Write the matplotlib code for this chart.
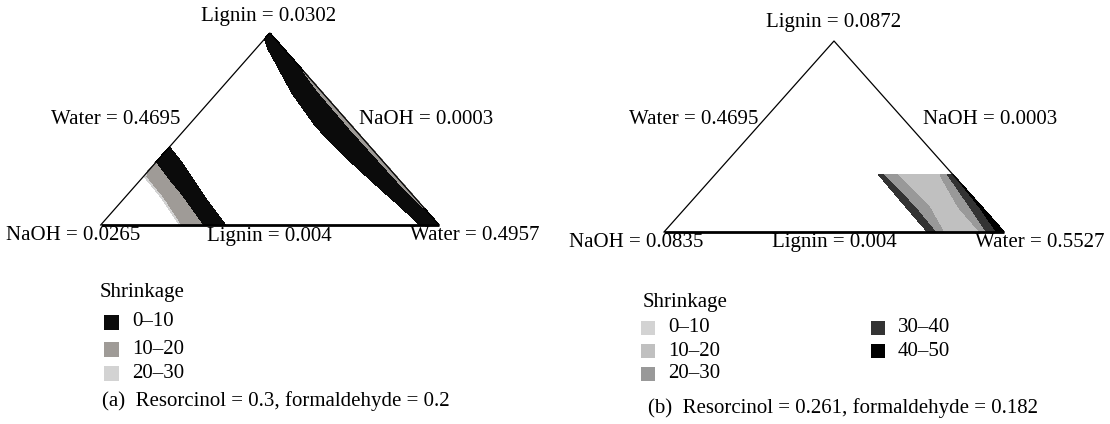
import numpy as np
import matplotlib
matplotlib.use("Agg")
import matplotlib.pyplot as plt
from matplotlib.patches import Rectangle

plt.rcParams['font.family'] = ['Liberation Serif', 'DejaVu Serif']
FS = 15

W, H = 1110, 424
fig = plt.figure(figsize=(W / 100, H / 100), dpi=100)

# ---------------- panel (a): resorcinol 0.3, formaldehyde 0.2 ----------------
a_vertex_labels = ["Lignin = 0.0302", "Water = 0.4695", "NaOH = 0.0003",
                   "NaOH = 0.0265", "Lignin = 0.004", "Water = 0.4957"]
a_levels = [0, 10, 20, 30]
a_bins = ["0\u201310", "10\u201320", "20\u201330"]
a_colors = ["#0b0b0b", "#9f9b97", "#d3d3d3"]
a_caption = "(a)  Resorcinol = 0.3, formaldehyde = 0.2"

# shrinkage iso-lines near the NaOH corner: height fraction t -> base position x
a_iso20_t = [0, 0.141, 0.25, 0.35, 0.45]
a_iso20_x = [0.234, 0.181, 0.131, 0.15, 0.16]
a_iso10_t = [0, 0.146, 0.234, 0.323, 0.45]
a_iso10_x = [0.299, 0.240, 0.199, 0.161, 0.17]
a_iso0_t = [0, 0.12, 0.219, 0.323, 0.406, 0.45]
a_iso0_x = [0.368, 0.317, 0.279, 0.240, 0.202, 0.19]
# shrinkage iso-lines along the Lignin-Water side: t -> distance from that side
a_edge0_t = [0, 0.1, 0.2, 0.34, 0.51, 0.69, 0.86, 0.92, 0.97, 1.0]
a_edge0_d = [0.055, 0.066, 0.08, 0.097, 0.107, 0.09, 0.057, 0.046, 0.03, 0.0]
a_edge10_t = [0, 0.09, 0.2, 0.5, 0.7, 0.8, 1.0]
a_edge10_d = [-0.006, 0, 0.008, 0.012, 0.009, 0, -0.006]
# shrinkage carried by each iso-line, left to right across a row
a_profile = [40, 40, 20, 10, 0, -20, 0, 10, 15, 15]

# ---------------- panel (b): resorcinol 0.261, formaldehyde 0.182 ----------------
b_vertex_labels = ["Lignin = 0.0872", "Water = 0.4695", "NaOH = 0.0003",
                   "NaOH = 0.0835", "Lignin = 0.004", "Water = 0.5527"]
b_levels = [0, 10, 20, 30, 40, 50]
b_bins = ["0\u201310", "10\u201320", "20\u201330", "30\u201340", "40\u201350"]
b_colors = ["#d3d3d3", "#c0c0c0", "#999999", "#333333", "#000000"]
b_caption = "(b)  Resorcinol = 0.261, formaldehyde = 0.182"

# feasible region: t <= 0.298, distance from Lignin-Water side <= limit
b_rows_t = [0, 0.132, 0.298]
b_iso40 = [0.021, 0.006, -0.003]
b_iso30_r = [0.05, 0.034, 0.015]
b_iso20_r = [0.07, 0.068, 0.038]
b_iso20_l = [0.179, 0.155, 0.165]
b_iso30_l = [0.203, 0.198, 0.206]
b_limit = [0.224, 0.222, 0.218]
b_profile = [48, 40, 30, 20, 15, 20, 30, 40]


def fx(px):
    return px / W


def fy(py):
    return 1 - py / H


def make_axes(x0, x1, ytop, ybase):
    ax = fig.add_axes([fx(x0), fy(ybase), (x1 - x0) / W, (ybase - ytop) / H])
    ax.set_xlim(0, 1)
    ax.set_ylim(0, 1)
    ax.axis("off")
    return ax


def outline(ax):
    ax.plot([0, 0.5, 1], [0, 1, 0], color="black", lw=0.9, clip_on=False, zorder=5)
    ax.plot([0, 1], [0, 0], color="black", lw=2.0, clip_on=False, zorder=6,
            solid_capstyle="butt")


def finish(cs):
    cs.set_edgecolor("face")
    cs.set_linewidth(0.4)


# ---- panel (a) field ----
ax_a = make_axes(100.7, 439.0, 33, 225)
t = np.linspace(0, 1, 500)
s = np.linspace(0, 1, 800)
T, S = np.meshgrid(t, s, indexing="ij")
XA = 0.5 * T + S * (1 - T)
ZA = np.empty_like(XA)
for i, ti in enumerate(t):
    x_edge = 1 - 0.5 * ti
    x20 = np.interp(ti, a_iso20_t, a_iso20_x)
    x10 = np.interp(ti, a_iso10_t, a_iso10_x)
    x0 = np.interp(ti, a_iso0_t, a_iso0_x)
    xb = x_edge - np.interp(ti, a_edge0_t, a_edge0_d)
    xs = x_edge - np.interp(ti, a_edge10_t, a_edge10_d)
    xp = [-1, x20 - 1e-4, x20, x10, x0, 0.5 * (x0 + xb), xb, xs, x_edge + 0.02, 2]
    ZA[i] = np.interp(XA[i], xp, a_profile)
cs_a = ax_a.contourf(XA, T, ZA, levels=a_levels, colors=a_colors)
finish(cs_a)
outline(ax_a)

# ---- panel (b) field ----
ax_b = make_axes(664.0, 1004.0, 41, 232)
tb = np.linspace(0, b_rows_t[-1], 200)
u = np.linspace(0, 1, 400)
TB, UB = np.meshgrid(tb, u, indexing="ij")
DB = np.empty_like(TB)
ZB = np.empty_like(TB)
for i, ti in enumerate(tb):
    lim = np.interp(ti, b_rows_t, b_limit)
    d40 = np.interp(ti, b_rows_t, b_iso40)
    d30r = np.interp(ti, b_rows_t, b_iso30_r)
    d20r = np.interp(ti, b_rows_t, b_iso20_r)
    d20l = np.interp(ti, b_rows_t, b_iso20_l)
    d30l = np.interp(ti, b_rows_t, b_iso30_l)
    DB[i] = UB[i] * lim
    dp = [-0.03, d40, d30r, d20r, 0.5 * (d20r + d20l), d20l, d30l, lim + 0.02]
    ZB[i] = np.interp(DB[i], dp, b_profile)
XB = 1 - 0.5 * TB - DB
cs_b = ax_b.contourf(XB, TB, ZB, levels=b_levels, colors=b_colors)
finish(cs_b)
outline(ax_b)


def label(px, py, s, ha="center"):
    fig.text(fx(px), fy(py), s, ha=ha, va="center", fontsize=FS)


# vertex and side labels
for labels, pos in [
    (a_vertex_labels, [(269, 16, "center"), (180, 119, "right"), (359, 119, "left"),
                       (73, 236, "center"), (269, 236, "center"), (475, 236, "center")]),
    (b_vertex_labels, [(834, 23, "center"), (758, 119, "right"), (923, 119, "left"),
                       (636, 243, "center"), (834, 243, "center"), (1040, 243, "center")]),
]:
    for s_, (px, py, ha) in zip(labels, pos):
        label(px, py, s_, ha)


def legend(x_title, y_title, x_patch, y_rows, col_dx, per_col, size, bins, colors):
    label(x_title, y_title, "Shrinkage", ha="left")
    for k, (b, c) in enumerate(zip(bins, colors)):
        col, row = divmod(k, per_col)
        px = x_patch + col * col_dx
        py = y_rows[row]
        fig.patches.append(Rectangle((fx(px), fy(py + size / 2)), size / W, size / H,
                                     transform=fig.transFigure, facecolor=c,
                                     edgecolor="none"))
        label(px + size + 13, py, b, ha="left")


legend(100, 292, 104, [322, 349, 373], 0, 3, 15, a_bins, a_colors)
legend(643, 303, 641, [328, 351, 374], 230, 3, 14, b_bins, b_colors)

label(102, 401, a_caption, ha="left")
label(648, 408, b_caption, ha="left")

fig.savefig("out.png", dpi=100)
